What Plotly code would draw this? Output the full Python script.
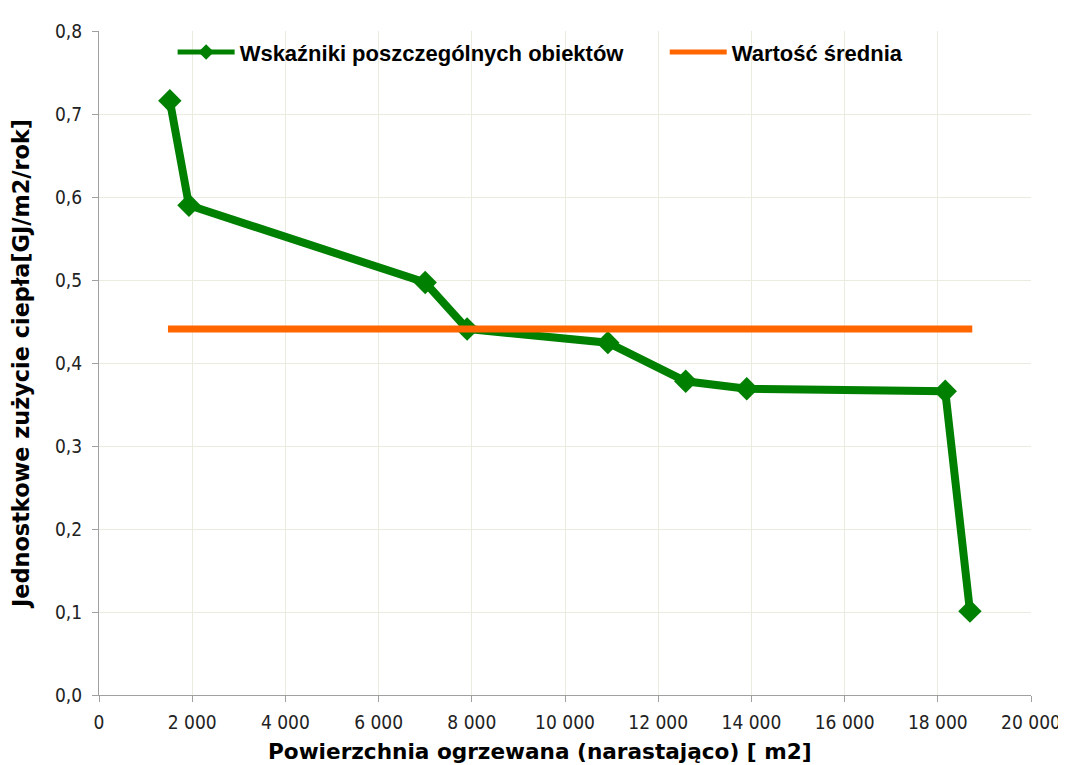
import plotly.graph_objects as go

# Data
area_cum = [1520, 1930, 7000, 7900, 10920, 12590, 13900, 18160, 18690]
indicator = [0.716, 0.590, 0.497, 0.441, 0.4245, 0.378, 0.369, 0.366, 0.101]
mean_x = [1480, 18740]
mean_y = [0.441, 0.441]

name_obj = "Wskaźniki poszczególnych obiektów"
name_mean = "Wartość średnia"
x_title = "Powierzchnia ogrzewana (narastająco) [ m2]"
y_title = "Jednostkowe zużycie ciepła[GJ/m2/rok]"

fig = go.Figure()
fig.add_trace(go.Scatter(
    x=area_cum, y=indicator, mode="lines+markers", name=name_obj,
    line=dict(color="#008000", width=8),
    marker=dict(symbol="diamond", size=18, color="#008000"),
    legend="legend",
))
fig.add_trace(go.Scatter(
    x=mean_x, y=mean_y, mode="lines", name=name_mean,
    line=dict(color="#FF6600", width=7),
    legend="legend2",
))

grid = "#ECEBE0"
legend_font = dict(family="Liberation Sans", size=22, color="black", weight="bold")
fig.update_layout(
    width=1066, height=765,
    margin=dict(l=89, r=43, t=14, b=78),
    paper_bgcolor="white", plot_bgcolor="white",
    separators=", ",
    showlegend=True,
    legend=dict(
        orientation="h", x=0.079, y=0.968, xanchor="left", yanchor="middle",
        font=legend_font, itemwidth=57, itemsizing="constant",
        bgcolor="rgba(0,0,0,0)",
    ),
    legend2=dict(
        orientation="h", x=0.607, y=0.968, xanchor="left", yanchor="middle",
        font=legend_font, itemwidth=57, itemsizing="constant",
        bgcolor="rgba(0,0,0,0)",
    ),
    xaxis=dict(
        range=[0, 20000], dtick=2000, tickformat=",d",
        showgrid=True, gridcolor=grid, gridwidth=1,
        showline=True, linecolor="#A0A0A0", linewidth=1,
        ticks="outside", ticklen=6, tickcolor="#A0A0A0",
        ticklabelstandoff=4,
        tickfont=dict(family="DejaVu Sans Condensed", size=19, color="#222222"),
        zeroline=False,
    ),
    yaxis=dict(
        range=[0, 0.8], dtick=0.1, tickformat=".1f",
        showgrid=True, gridcolor=grid, gridwidth=1,
        showline=True, linecolor="#A0A0A0", linewidth=1,
        ticks="outside", ticklen=6, tickcolor="#A0A0A0",
        ticklabelstandoff=6,
        tickfont=dict(family="DejaVu Sans Condensed", size=19, color="#222222"),
        title=dict(text=y_title, standoff=19,
                   font=dict(family="DejaVu Sans", size=22.4, color="black", weight="bold")),
        zeroline=False,
    ),
)
fig.add_annotation(
    text=x_title, xref="paper", yref="paper", x=0.473, y=-0.0847,
    xanchor="center", yanchor="middle", showarrow=False,
    font=dict(family="DejaVu Sans", size=21.6, color="black", weight="bold"),
)
fig.write_html("out.html")
